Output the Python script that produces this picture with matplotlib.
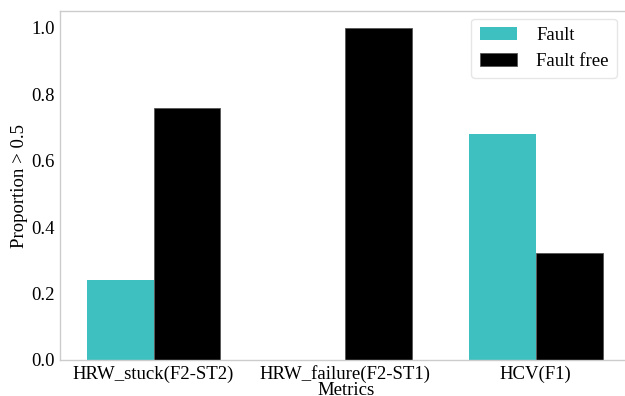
import numpy as np
import matplotlib.pyplot as plt

# proportion of scores above 0.5 for each metric
metrics = ["HRW_stuck(F2-ST2)", "HRW_failure(F2-ST1)", "HCV(F1)"]
fault = [0.241, 0.0, 0.679]
fault_free = [0.759, 1.0, 0.321]

plt.rcParams['font.family'] = ['Liberation Serif', 'DejaVu Serif']

fig = plt.figure(figsize=(6.25, 3.96), dpi=100)
ax = fig.add_axes([0.096, 0.091, 0.917, 0.881])

x = np.arange(len(metrics))
w = 0.35
ax.bar(x - w / 2, fault, w, color='#3fc0c0', label='Fault')
ax.bar(x + w / 2, fault_free, w, color='black', edgecolor='#555555', linewidth=0.6, label='Fault free')

ax.set_xlim(-0.49, 2.51)
ax.set_ylim(0, 1.05)
ax.set_xticks(x)
ax.set_xticklabels(metrics)
ax.set_yticks([0.0, 0.2, 0.4, 0.6, 0.8, 1.0])
ax.tick_params(length=0, labelsize=13.5, pad=4)
ax.set_ylabel('Proportion > 0.5', fontsize=13.5, labelpad=2)
ax.set_xlabel('Metrics', fontsize=13.5, labelpad=-1)

for s in ax.spines.values():
    s.set_color('#cccccc')
    s.set_linewidth(1.0)

ax.legend(loc='upper right', bbox_to_anchor=(0.985, 1.0), borderaxespad=0.4,
          fontsize=13.5, frameon=True, edgecolor='#e0e0e0', fancybox=True,
          handlelength=2.0, handletextpad=1.0, borderpad=0.45, labelspacing=0.45)

fig.savefig('out.png', dpi=100)
